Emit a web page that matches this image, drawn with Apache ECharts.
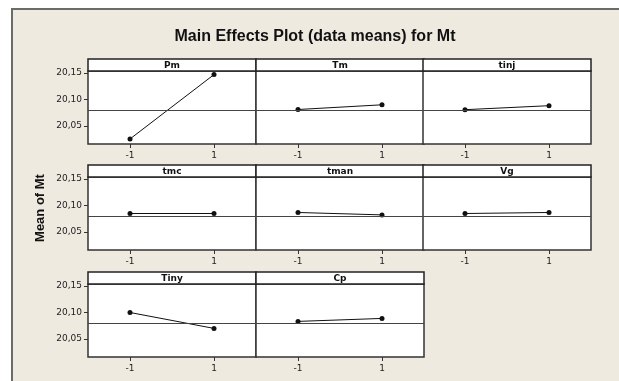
<!DOCTYPE html>
<html>
<head>
<meta charset="utf-8">
<script src="https://cdn.jsdelivr.net/npm/echarts@6/dist/echarts.min.js"></script>
<style>
html,body{margin:0;padding:0;background:#ffffff;}
#chart{width:619px;height:381px;}
</style>
</head>
<body>
<div id="chart"></div>
<script>
// ---- data ----
const factors = ['Pm', 'Tm', 'tinj', 'tmc', 'tman', 'Vg', 'Tiny', 'Cp'];
const levels = ['-1', '1'];
const meansLow = [20.0255, 20.0811, 20.0808, 20.0849, 20.0868, 20.0849, 20.1000, 20.0832];
const meansHigh = [20.1470, 20.0900, 20.0883, 20.0849, 20.0823, 20.0868, 20.0700, 20.0888];
const grandMean = 20.0840;
const yTicks = [20.05, 20.10, 20.15];
const titleText = 'Main Effects Plot (data means) for Mt';
const yAxisTitle = 'Mean of Mt';

// ---- layout ----
const colX = [88, 256, 423];
const rowTop = [59, 165, 272];
const panelW = 168;
const stripH = 12;
const plotH = 73;
const yMin = 20.016, yMax = 20.1538;
const font = 'DejaVu Sans';

const chart = echarts.init(document.getElementById('chart'), null, {renderer: 'canvas'});
const grids = [], xAxes = [], yAxes = [], series = [];
const graphics = [];

graphics.push({
  type: 'rect', z: -10, silent: true,
  shape: {x: 12, y: 9, width: 640, height: 400},
  style: {fill: '#EEEAE0', stroke: '#6b6b6b', lineWidth: 2}
});
graphics.push({
  type: 'text', x: 315, y: 37,
  style: {text: titleText, font: 'bold 16px "Liberation Sans"', fill: '#111', textAlign: 'center', textVerticalAlign: 'middle'}
});
graphics.push({
  type: 'text', x: 40, y: 208, rotation: Math.PI / 2,
  style: {text: yAxisTitle, font: 'bold 13px "Liberation Sans"', fill: '#111', textAlign: 'center', textVerticalAlign: 'middle'}
});

factors.forEach((f, i) => {
  const r = Math.floor(i / 3), c = i % 3;
  const left = colX[c], top = rowTop[r];
  grids.push({
    left: left, top: top + stripH, width: panelW, height: plotH,
    show: true, backgroundColor: '#ffffff', borderColor: '#333', borderWidth: 1.5
  });
  xAxes.push({
    type: 'category', gridIndex: i, data: levels, boundaryGap: true,
    axisLine: {show: false},
    axisTick: {show: true, alignWithLabel: true, length: 4, lineStyle: {color: '#333'}},
    axisLabel: {show: true, margin: 7, fontFamily: font, fontSize: 9, color: '#222'},
    splitLine: {show: false}
  });
  const isLeft = c === 0;
  yAxes.push({
    type: 'value', gridIndex: i, min: yMin, max: yMax,
    axisLine: {show: false},
    axisTick: {show: isLeft, length: 4, lineStyle: {color: '#333'}, customValues: yTicks},
    axisLabel: {show: isLeft, margin: 6, fontFamily: font, fontSize: 9, color: '#222',
      customValues: yTicks,
      formatter: v => v.toFixed(2).replace('.', ',')},
    splitLine: {show: false}
  });
  series.push({
    type: 'line', xAxisIndex: i, yAxisIndex: i,
    data: [meansLow[i], meansHigh[i]],
    symbol: 'circle', symbolSize: 5,
    lineStyle: {color: '#111', width: 1},
    itemStyle: {color: '#111'},
    silent: true, animation: false,
    markLine: {
      silent: true, symbol: 'none', label: {show: false},
      lineStyle: {color: '#444', width: 1, type: 'solid'},
      data: [{yAxis: grandMean}]
    }
  });
  // strip header
  graphics.push({
    type: 'rect', silent: true,
    shape: {x: left, y: top, width: panelW, height: stripH},
    style: {fill: '#ffffff', stroke: '#222', lineWidth: 1.5}
  });
  graphics.push({
    type: 'text', silent: true, x: left + panelW / 2, y: top + stripH / 2 + 0.5,
    style: {text: f, font: 'bold 9px "DejaVu Sans"', fill: '#111', textAlign: 'center', textVerticalAlign: 'middle'}
  });
});

chart.setOption({
  animation: false,
  grid: grids, xAxis: xAxes, yAxis: yAxes, series: series,
  graphic: graphics
});
</script>
</body>
</html>
